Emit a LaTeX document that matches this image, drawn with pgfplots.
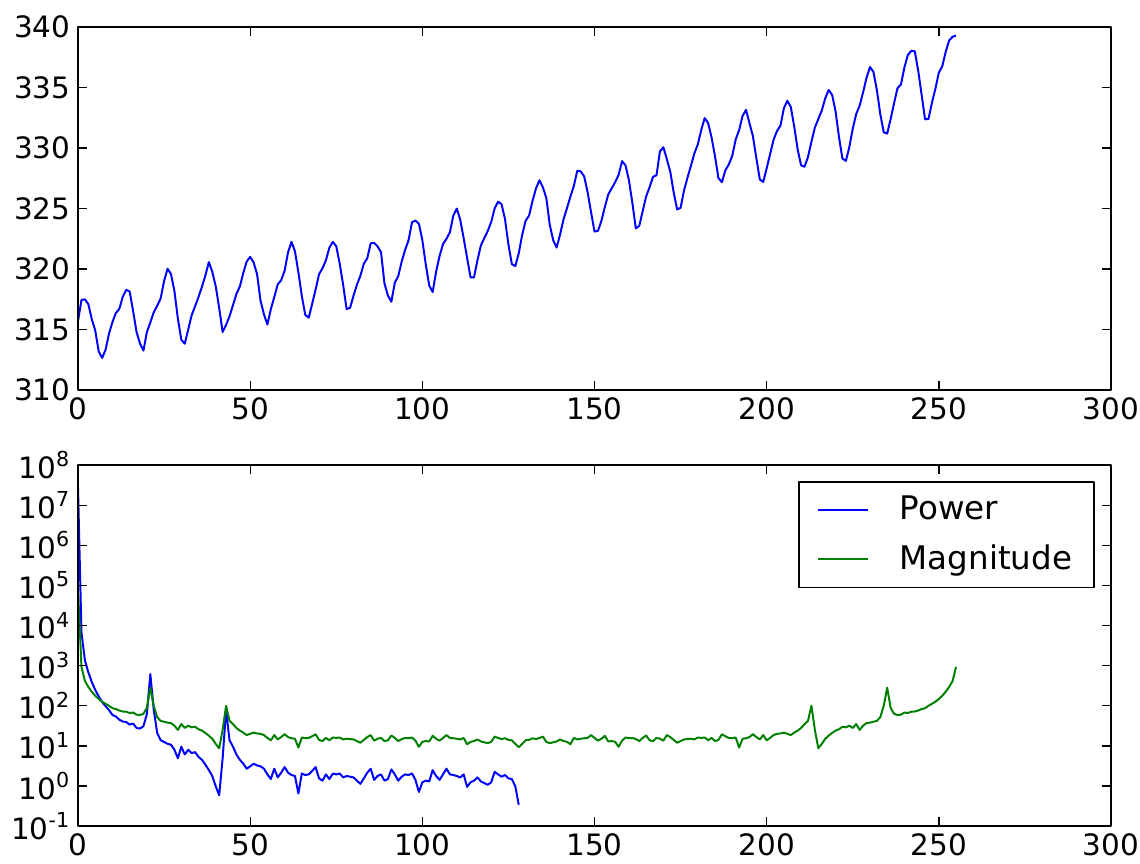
\documentclass[border=0pt]{standalone}
\usepackage{fontspec}
\setmainfont{DejaVu Sans}
\usepackage{pgfplots}
\usepackage{pgfplotstable}
\pgfplotsset{compat=1.18}
\definecolor{mplgreen}{RGB}{0,128,0}

% monthly CO2, one value per month
\pgfplotstableread[row sep=\\]{
c\\
315.71\\ 317.45\\ 317.50\\ 317.10\\ 315.86\\ 314.93\\ 313.20\\ 312.66\\ 313.33\\ 314.67\\
315.62\\ 316.38\\ 316.71\\ 317.72\\ 318.29\\ 318.15\\ 316.54\\ 314.80\\ 313.84\\ 313.26\\ 314.80\\ 315.58\\
316.43\\ 316.97\\ 317.58\\ 319.02\\ 320.03\\ 319.59\\ 318.18\\ 315.91\\ 314.16\\ 313.83\\ 315.00\\ 316.19\\
316.93\\ 317.70\\ 318.54\\ 319.48\\ 320.58\\ 319.77\\ 318.57\\ 316.79\\ 314.80\\ 315.38\\ 316.10\\ 317.01\\
317.94\\ 318.56\\ 319.68\\ 320.63\\ 321.01\\ 320.55\\ 319.58\\ 317.40\\ 316.26\\ 315.42\\ 316.69\\ 317.69\\
318.74\\ 319.08\\ 319.86\\ 321.39\\ 322.25\\ 321.47\\ 319.74\\ 317.77\\ 316.21\\ 315.99\\ 317.12\\ 318.31\\
319.57\\ 320.07\\ 320.73\\ 321.77\\ 322.25\\ 321.89\\ 320.44\\ 318.70\\ 316.70\\ 316.79\\ 317.79\\ 318.71\\
319.44\\ 320.44\\ 320.89\\ 322.13\\ 322.16\\ 321.87\\ 321.39\\ 318.81\\ 317.81\\ 317.30\\ 318.87\\ 319.42\\
320.62\\ 321.59\\ 322.39\\ 323.87\\ 324.01\\ 323.75\\ 322.39\\ 320.37\\ 318.64\\ 318.10\\ 319.79\\ 321.08\\
322.07\\ 322.50\\ 323.04\\ 324.42\\ 325.00\\ 324.09\\ 322.55\\ 320.92\\ 319.31\\ 319.31\\ 320.72\\ 321.96\\
322.57\\ 323.15\\ 323.89\\ 325.02\\ 325.57\\ 325.36\\ 324.14\\ 322.03\\ 320.41\\ 320.25\\ 321.31\\ 322.84\\
324.00\\ 324.42\\ 325.64\\ 326.66\\ 327.34\\ 326.76\\ 325.88\\ 323.67\\ 322.38\\ 321.78\\ 322.85\\ 324.11\\
325.03\\ 325.99\\ 326.87\\ 328.13\\ 328.07\\ 327.66\\ 326.35\\ 324.69\\ 323.10\\ 323.16\\ 323.98\\ 325.13\\
326.17\\ 326.68\\ 327.18\\ 327.78\\ 328.92\\ 328.57\\ 327.34\\ 325.46\\ 323.36\\ 323.57\\ 324.80\\ 326.01\\
326.77\\ 327.63\\ 327.75\\ 329.72\\ 330.07\\ 329.09\\ 328.05\\ 326.32\\ 324.93\\ 325.06\\ 326.50\\ 327.55\\
328.54\\ 329.56\\ 330.30\\ 331.50\\ 332.48\\ 332.07\\ 330.87\\ 329.31\\ 327.51\\ 327.18\\ 328.16\\ 328.64\\
329.35\\ 330.71\\ 331.48\\ 332.65\\ 333.16\\ 332.06\\ 330.99\\ 329.17\\ 327.41\\ 327.20\\ 328.33\\ 329.50\\
330.68\\ 331.41\\ 331.85\\ 333.29\\ 333.91\\ 333.40\\ 331.78\\ 329.88\\ 328.57\\ 328.46\\ 329.26\\ 330.53\\
331.69\\ 332.40\\ 333.10\\ 334.10\\ 334.80\\ 334.40\\ 333.06\\ 330.91\\ 329.13\\ 328.94\\ 330.07\\ 331.61\\
332.81\\ 333.50\\ 334.60\\ 335.80\\ 336.70\\ 336.30\\ 334.80\\ 332.80\\ 331.30\\ 331.20\\ 332.40\\ 333.70\\
334.95\\ 335.25\\ 336.66\\ 337.69\\ 338.03\\ 338.01\\ 336.41\\ 334.41\\ 332.37\\ 332.41\\ 333.75\\ 334.90\\
336.23\\ 336.76\\ 337.96\\ 338.89\\ 339.20\\ 339.30\\
}\cotwo

% power, bins 0..128
\pgfplotstableread[row sep=\\]{
p\\
2.7e7\\ 6800\\ 1358\\ 680\\ 392\\ 248\\ 171\\ 124\\ 98\\ 78\\
59\\ 54\\ 45\\ 40.5\\ 39.4\\ 34\\ 36\\ 28\\ 27\\ 31\\
62\\ 621\\ 78\\ 21\\ 13.8\\ 12.5\\ 11.3\\ 10.7\\ 8.0\\ 4.9\\
9.6\\ 6.1\\ 8.0\\ 6.6\\ 7.0\\ 5.3\\ 4.5\\ 3.4\\ 2.5\\ 1.76\\
0.98\\ 0.59\\ 4.9\\ 78\\ 13.8\\ 9.6\\ 6.1\\ 4.5\\ 3.6\\ 2.7\\
3.1\\ 3.6\\ 3.25\\ 3.1\\ 2.7\\ 1.95\\ 1.49\\ 2.7\\ 1.64\\ 2.15\\
2.97\\ 2.15\\ 1.88\\ 1.78\\ 0.65\\ 2.05\\ 1.88\\ 1.95\\ 2.37\\ 2.97\\
1.55\\ 1.36\\ 1.95\\ 1.49\\ 2.05\\ 1.95\\ 2.05\\ 1.64\\ 1.78\\ 1.71\\
1.64\\ 1.36\\ 1.13\\ 1.55\\ 2.15\\ 2.7\\ 1.42\\ 1.78\\ 1.95\\ 1.36\\
1.49\\ 2.59\\ 1.95\\ 1.36\\ 1.71\\ 1.95\\ 1.88\\ 2.05\\ 1.42\\ 0.71\\
1.24\\ 1.36\\ 1.30\\ 2.48\\ 1.78\\ 1.42\\ 1.95\\ 2.7\\ 1.95\\ 1.88\\
1.78\\ 1.64\\ 1.95\\ 0.95\\ 1.24\\ 1.36\\ 1.64\\ 1.30\\ 1.18\\ 1.07\\
1.24\\ 2.26\\ 1.95\\ 1.71\\ 1.88\\ 1.55\\ 1.49\\ 0.98\\ 0.34\\
}\power

% magnitude, bins 0..255
\pgfplotstableread[row sep=\\]{
m\\
83200\\ 933\\ 417\\ 295\\ 224\\ 178\\ 148\\ 126\\ 112\\ 100\\
87\\ 83\\ 76\\ 72\\ 71\\ 66\\ 68\\ 60\\ 59\\ 63\\
89\\ 282\\ 100\\ 52\\ 42\\ 40\\ 38\\ 37\\ 32\\ 25\\
35\\ 28\\ 32\\ 29\\ 30\\ 26\\ 24\\ 21\\ 18\\ 15\\
11.2\\ 8.7\\ 25\\ 100\\ 42\\ 35\\ 28\\ 24\\ 21.4\\ 18.6\\
20\\ 21.4\\ 20.4\\ 20\\ 18.6\\ 15.8\\ 13.8\\ 18.6\\ 14.5\\ 16.6\\
19.5\\ 16.6\\ 15.5\\ 15.1\\ 9.1\\ 16.2\\ 15.5\\ 15.8\\ 17.4\\ 19.5\\
14.1\\ 13.2\\ 15.8\\ 13.8\\ 16.2\\ 15.8\\ 16.2\\ 14.5\\ 15.1\\ 14.8\\
14.5\\ 13.2\\ 12.0\\ 14.1\\ 16.6\\ 18.6\\ 13.5\\ 15.1\\ 15.8\\ 13.2\\
13.8\\ 18.2\\ 15.8\\ 13.2\\ 14.8\\ 15.8\\ 15.5\\ 16.2\\ 13.5\\ 9.5\\
12.6\\ 13.2\\ 12.9\\ 17.8\\ 15.1\\ 13.5\\ 15.8\\ 18.6\\ 15.8\\ 15.5\\
15.1\\ 14.5\\ 15.8\\ 11.0\\ 12.6\\ 13.2\\ 14.5\\ 12.9\\ 12.3\\ 11.7\\
12.6\\ 17.0\\ 15.8\\ 14.8\\ 15.5\\ 14.1\\ 13.8\\ 11.2\\ 9.3\\
11.2\\ 13.8\\ 14.1\\ 15.5\\ 14.8\\ 15.8\\ 17.0\\ 12.6\\ 11.7\\ 12.3\\
12.9\\ 14.5\\ 13.2\\ 12.6\\ 11.0\\ 15.8\\ 14.5\\ 15.1\\ 15.5\\ 15.8\\
18.6\\ 15.8\\ 13.5\\ 15.1\\ 17.8\\ 12.9\\ 13.2\\ 12.6\\ 9.5\\ 13.5\\
16.2\\ 15.5\\ 15.8\\ 14.8\\ 13.2\\ 15.8\\ 18.2\\ 13.8\\ 13.2\\ 15.8\\
15.1\\ 13.5\\ 18.6\\ 16.6\\ 14.1\\ 12.0\\ 13.2\\ 14.5\\ 14.8\\ 15.1\\
14.5\\ 16.2\\ 15.8\\ 16.2\\ 13.8\\ 15.8\\ 13.2\\ 14.1\\ 19.5\\ 17.4\\
15.8\\ 15.5\\ 16.2\\ 9.1\\ 15.1\\ 15.5\\ 16.6\\ 19.5\\ 16.6\\ 14.5\\
18.6\\ 13.8\\ 15.8\\ 18.6\\ 20\\ 20.4\\ 21.4\\ 20\\ 18.6\\ 21.4\\
24\\ 28\\ 35\\ 42\\ 100\\ 25\\ 8.7\\ 11.2\\ 15\\ 18\\
21\\ 24\\ 26\\ 30\\ 29\\ 32\\ 28\\ 35\\ 25\\ 32\\
37\\ 38\\ 40\\ 42\\ 52\\ 100\\ 282\\ 89\\ 63\\ 59\\
60\\ 68\\ 66\\ 71\\ 72\\ 76\\ 83\\ 87\\ 100\\ 112\\
126\\ 148\\ 178\\ 224\\ 295\\ 417\\ 933\\
}\magn

\pgfplotsset{
  panel/.style={
    scale only axis, width=470pt,
    xmin=0, xmax=300, xtick={0,50,...,300},
    tick pos=both, ticklabel pos=left,
    axis on top,
    axis line style={line width=0.8pt},
    tick style={black, line width=0.6pt},
    major tick length=4pt, minor tick length=2pt,
    tick label style={font=\fontsize{13.4}{16}\selectfont},
    xticklabel style={inner ysep=3pt},
    /pgf/number format/assume math mode=true,
    line join=round,
  },
}

\begin{document}
\begin{tikzpicture}
% page frame, same proportions as the reference figure
\useasboundingbox (-35.5pt,12.3pt) rectangle (483.2pt,-380.8pt);

\begin{axis}[panel, anchor=north west, at={(0,0)}, height=165.2pt,
    ymin=310, ymax=340, ytick={310,315,...,340}]
\addplot[blue, line width=0.9pt] table[x expr=\coordindex, y=c] {\cotwo};
\end{axis}

\begin{axis}[panel, anchor=north west, at={(0,-199.3pt)}, height=164.3pt,
    ymode=log, log basis y=10, ymin=0.1, ymax=1e8,
    ytick={1e-1,1,1e1,1e2,1e3,1e4,1e5,1e6,1e7,1e8},
    yticklabel={10\textsuperscript{\pgfmathprintnumber{\tick}}},
    legend style={at={(0.9845,0.956)}, anchor=north east, draw=black,
      line width=0.8pt, font=\fontsize{14.8}{17}\selectfont,
      inner xsep=8pt, inner ysep=1.5pt, row sep=0pt, column sep=12pt,
      nodes={inner xsep=2pt, inner ysep=5pt}},
    legend cell align=left,
    legend image code/.code={\draw[#1] (0pt,0pt) -- (22.8pt,0pt);}]
\addplot[blue, line width=0.9pt] table[x expr=\coordindex, y=p] {\power};
\addlegendentry{Power}
\addplot[mplgreen, line width=0.9pt] table[x expr=\coordindex, y=m] {\magn};
\addlegendentry{Magnitude}
\end{axis}
\end{tikzpicture}
\end{document}
